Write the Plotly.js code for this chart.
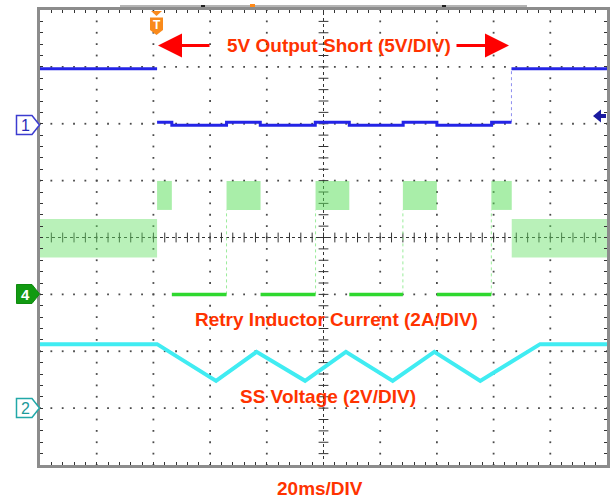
<!DOCTYPE html>
<html>
<head>
<meta charset="utf-8">
<script src="https://cdn.plot.ly/plotly-3.0.1.min.js"></script>
<style>
html,body{margin:0;padding:0;background:#fff;}
#chart{width:616px;height:499px;}
</style>
</head>
<body>
<div id="chart"></div>
<script>
// ---------------- DATA (read from the scope capture) ----------------
// time axis: 20 ms / div, 10 divisions
const timeRangeMs = [0, 200];
const msPerDiv = 20;

// CH1 - 5V output (V), 5 V/div, ground marker at +2 div
const ch1Scale = 5, ch1Ground = 2;
const ch1Time = [0, 41.3, null, 41.3, 46.5, 65.8, 77.7, 97.1, 109.1, 128.1, 140.0, 159.3, 166.3, null, 166.3, 200];
const ch1Volt = [4.83, 4.83, null, 0.14, -0.13, 0.14, -0.13, 0.14, -0.13, 0.14, -0.13, 0.14, 0.14, null, 4.83, 4.83];
const ch1RiseTime = [166.3, 166.3];
const ch1RiseVolt = [0.14, 4.83];

// CH4 - inductor current (A), 2 A/div, ground marker at -1 div
const ch4Scale = 2, ch4Ground = -1;
const ch4BandStart = [0, 41.3, 65.8, 97.2, 128.0, 159.2, 166.4];
const ch4BandEnd   = [41.3, 46.5, 77.8, 109.1, 140.0, 166.4, 200];
const ch4BandLow   = [1.30, 2.97, 2.97, 2.97, 2.97, 2.97, 1.30];
const ch4BandHigh  = [2.65, 3.99, 3.99, 3.99, 3.99, 3.99, 2.65];
const ch4OffStart  = [46.5, 77.8, 109.1, 140.0];
const ch4OffEnd    = [65.8, 97.2, 128.0, 159.2];
const ch4OffLevel  = 0.0;

// CH2 - soft-start voltage (V), 2 V/div, ground marker at -3 div
const ch2Scale = 2, ch2Ground = -3;
const ch2Time = [0, 41.3, 62.1, 76.4, 93.5, 107.9, 124.4, 139.1, 155.3, 176.4, 200];
const ch2Volt = [2.25, 2.25, 0.96, 1.98, 0.96, 1.98, 0.96, 1.98, 0.96, 2.25, 2.25];

// labels
const titleOutput = "5V Output Short (5V/DIV)";
const titleCurrent = "Retry Inductor Current (2A/DIV)";
const titleSS = "SS Voltage (2V/DIV)";
const titleTime = "20ms/DIV";

// ---------------- helpers (layout only) ----------------
const L = 40, R = 607, T = 10, B = 465;
const PX = px => (px - L) / (R - L);
const PY = py => (B - py) / (B - T);
const poly = pts => 'M' + pts.map(p => PX(p[0]).toFixed(5) + ',' + PY(p[1]).toFixed(5)).join(' L') + ' Z';
const chRange = (scale, ground) => [(-4 - ground) * scale, (4 - ground) * scale];

const textRed = '#ff3300';
const traces = [];

// grid dots
const gx = [], gy = [];
for (let k = 1; k <= 9; k++) {
  if (k === 5) continue;
  for (let s = -20; s <= 20; s++) { gx.push(k * msPerDiv); gy.push(s / 5); }
}
for (let j = -3; j <= 3; j++) {
  if (j === 0) continue;
  for (let s = 0; s <= 50; s++) { gx.push(s * msPerDiv / 5); gy.push(j); }
}
traces.push({x: gx, y: gy, type: 'scatter', mode: 'markers', hoverinfo: 'skip',
  marker: {symbol: 'square', size: 1.8, color: '#4a4a4a'}, xaxis: 'x', yaxis: 'y'});
// centre cross ticks
const cxh = [], cyh = [], cxv = [], cyv = [];
for (let s = 1; s < 50; s++) { cxh.push(s * msPerDiv / 5); cyh.push(0); }
for (let s = -19; s < 20; s++) { cxv.push(5 * msPerDiv); cyv.push(s / 5); }
traces.push({x: cxh, y: cyh, type: 'scatter', mode: 'markers', hoverinfo: 'skip',
  marker: {symbol: 'line-ns', size: 7, line: {width: 1, color: '#333'}}, xaxis: 'x', yaxis: 'y'});
traces.push({x: cxv, y: cyv, type: 'scatter', mode: 'markers', hoverinfo: 'skip',
  marker: {symbol: 'line-ew', size: 7, line: {width: 1, color: '#333'}}, xaxis: 'x', yaxis: 'y'});

// CH4 green bands (noise envelopes)
for (let i = 0; i < ch4BandStart.length; i++) {
  const burst = ch4BandHigh[i] > 3;
  traces.push({
    x: [ch4BandStart[i], ch4BandEnd[i], ch4BandEnd[i], ch4BandStart[i], ch4BandStart[i]],
    y: [ch4BandLow[i], ch4BandLow[i], ch4BandHigh[i], ch4BandHigh[i], ch4BandLow[i]],
    type: 'scatter', mode: 'lines', fill: 'toself', hoverinfo: 'skip',
    line: {width: 0, color: 'rgba(0,0,0,0)'},
    fillcolor: burst ? 'rgba(90,222,90,0.52)' : 'rgba(100,225,100,0.45)',
    xaxis: 'x', yaxis: 'y2'
  });
}
// CH4 off level + faint rising edges
const offX = [], offY = [], edgeX = [], edgeY = [];
for (let i = 0; i < ch4OffStart.length; i++) {
  offX.push(ch4OffStart[i], ch4OffEnd[i], null);
  offY.push(ch4OffLevel, ch4OffLevel, null);
  edgeX.push(ch4OffEnd[i], ch4OffEnd[i], null);
  edgeY.push(ch4OffLevel, ch4BandLow[i + 2], null);
}
traces.push({x: edgeX, y: edgeY, type: 'scatter', mode: 'lines', hoverinfo: 'skip',
  line: {color: '#9aec9a', width: 1, dash: 'dot'}, xaxis: 'x', yaxis: 'y2'});
traces.push({x: offX, y: offY, type: 'scatter', mode: 'lines', hoverinfo: 'skip',
  line: {color: '#2fd82f', width: 3.5}, xaxis: 'x', yaxis: 'y2'});

// CH1 blue
traces.push({x: ch1RiseTime, y: ch1RiseVolt, type: 'scatter', mode: 'lines', hoverinfo: 'skip',
  line: {color: '#8f8ff0', width: 1, dash: 'dot'}, xaxis: 'x', yaxis: 'y3'});
traces.push({x: ch1Time, y: ch1Volt, type: 'scatter', mode: 'lines', hoverinfo: 'skip',
  line: {color: '#2424e6', width: 3, shape: 'hv'}, connectgaps: false, xaxis: 'x', yaxis: 'y3'});

// CH2 cyan
traces.push({x: ch2Time, y: ch2Volt, type: 'scatter', mode: 'lines', hoverinfo: 'skip',
  line: {color: '#40ecf2', width: 4}, xaxis: 'x', yaxis: 'y4'});

const hiddenY = (range) => ({range: range, overlaying: 'y', visible: false, fixedrange: true,
  showgrid: false, zeroline: false});

const shapes = [
  // centre lines
  {type: 'line', xref: 'x', yref: 'y', x0: 0, x1: 200, y0: 0, y1: 0, layer: 'below',
   line: {color: '#333', width: 1, dash: 'dot'}},
  {type: 'line', xref: 'x', yref: 'y', x0: 100, x1: 100, y0: -4, y1: 4, layer: 'below',
   line: {color: '#333', width: 1, dash: 'dot'}},
  // top status bar
  {type: 'line', xref: 'paper', yref: 'paper', x0: PX(120), x1: PX(527), y0: PY(6), y1: PY(6),
   line: {color: '#b4b4b4', width: 2}},
  {type: 'line', xref: 'paper', yref: 'paper', x0: PX(201), x1: PX(205), y0: PY(6), y1: PY(6),
   line: {color: '#222', width: 2}},
  {type: 'line', xref: 'paper', yref: 'paper', x0: PX(442), x1: PX(446), y0: PY(6), y1: PY(6),
   line: {color: '#222', width: 2}},
  {type: 'rect', xref: 'paper', yref: 'paper', x0: PX(250), x1: PX(255), y0: PY(7), y1: PY(4),
   fillcolor: '#ff8a1a', line: {width: 0}},
  // trigger marker
  {type: 'path', xref: 'paper', yref: 'paper', path: poly([[151, 11], [162, 11], [156.5, 16]]),
   fillcolor: '#f98a1c', line: {width: 0}},
  {type: 'path', xref: 'paper', yref: 'paper',
   path: poly([[150, 17.5], [163, 17.5], [163, 30], [156.5, 35], [150, 30]]),
   fillcolor: '#f98a1c', line: {width: 0}},
  // channel markers
  {type: 'path', xref: 'paper', yref: 'paper',
   path: poly([[16.5, 115.5], [32, 115.5], [39.5, 125], [32, 134.5], [16.5, 134.5]]),
   fillcolor: '#ffffff', line: {color: '#3c3cd0', width: 1.5}},
  {type: 'path', xref: 'paper', yref: 'paper',
   path: poly([[16.5, 284.5], [32, 284.5], [39.5, 294], [32, 303.5], [16.5, 303.5]]),
   fillcolor: '#129a12', line: {color: '#0e8a0e', width: 1}},
  {type: 'path', xref: 'paper', yref: 'paper',
   path: poly([[16.5, 398.5], [32, 398.5], [39.5, 408], [32, 417.5], [16.5, 417.5]]),
   fillcolor: '#ffffff', line: {color: '#22a8a8', width: 1.5}},
  // trigger level arrow (right)
  {type: 'path', xref: 'paper', yref: 'paper',
   path: poly([[593, 116], [601, 109.5], [601, 114], [606, 114], [606, 118], [601, 118], [601, 122.5]]),
   fillcolor: '#1a1aa0', line: {width: 0}}
];

const ann = (px, py, text, size, color) => ({xref: 'paper', yref: 'paper', x: PX(px), y: PY(py),
  xanchor: 'center', yanchor: 'middle', text: text, showarrow: false,
  font: {family: 'Liberation Sans, Arial', size: size, color: color}});

const annotations = [
  ann(156.5, 25, '<b>T</b>', 12, '#ffffff'),
  ann(25, 125, '1', 16, '#2a2ab8'),
  ann(25, 294, '<b>4</b>', 15, '#ffffff'),
  ann(25, 408, '2', 16, '#1c9a9a'),
  ann(339, 45.5, '<b>' + titleOutput + '</b>', 19, textRed),
  ann(336.5, 319, '<b>' + titleCurrent + '</b>', 19, textRed),
  ann(328, 396.5, '<b>' + titleSS + '</b>', 19, textRed),
  ann(320, 488.3, '<b>' + titleTime + '</b>', 19, textRed),
  // arrows
  {xref: 'paper', yref: 'paper', x: PX(158), y: PY(45.5), ax: 53, ay: 0, text: '', showarrow: true,
   arrowhead: 2, arrowsize: 1.6, arrowwidth: 3, arrowcolor: '#ff0000', standoff: 0},
  {xref: 'paper', yref: 'paper', x: PX(509), y: PY(45.5), ax: -54, ay: 0, text: '', showarrow: true,
   arrowhead: 2, arrowsize: 1.6, arrowwidth: 3, arrowcolor: '#ff0000', standoff: 0}
];

const layout = {
  width: 616, height: 499,
  margin: {l: L, r: 616 - R, t: T, b: 499 - B, pad: 0},
  paper_bgcolor: '#ffffff', plot_bgcolor: '#ffffff',
  showlegend: false,
  xaxis: {range: timeRangeMs, showgrid: false, zeroline: false, showticklabels: false,
    showline: true, mirror: 'ticks', linecolor: '#8c8c8c', linewidth: 3,
    ticks: 'inside', ticklen: 3, tickwidth: 1, tickcolor: '#333', tick0: 0, dtick: msPerDiv / 5, fixedrange: true},
  yaxis: {range: [-4, 4], showgrid: false, zeroline: false, showticklabels: false,
    showline: true, mirror: 'ticks', linecolor: '#8c8c8c', linewidth: 3,
    ticks: 'inside', ticklen: 3, tickwidth: 1, tickcolor: '#333', tick0: 0, dtick: 0.2, fixedrange: true},
  yaxis2: hiddenY(chRange(ch4Scale, ch4Ground)),
  yaxis3: hiddenY(chRange(ch1Scale, ch1Ground)),
  yaxis4: hiddenY(chRange(ch2Scale, ch2Ground)),
  shapes: shapes,
  annotations: annotations
};

Plotly.newPlot('chart', traces, layout, {staticPlot: true, displayModeBar: false});
</script>
</body>
</html>
